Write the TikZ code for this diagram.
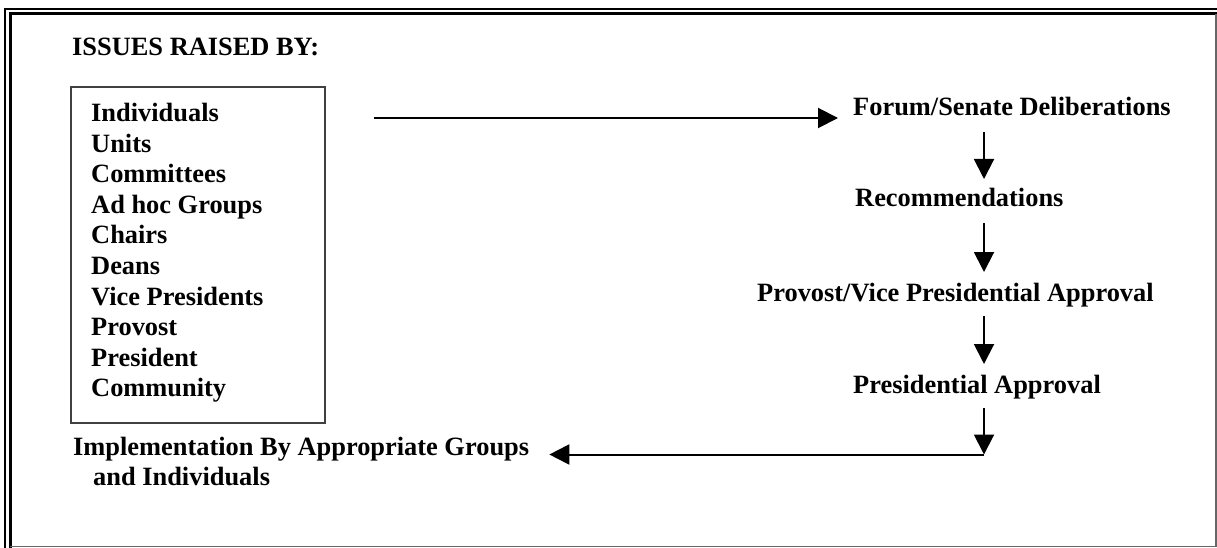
\documentclass[tikz,border=0pt]{standalone}
\usepackage{fontspec}
\setmainfont{Liberation Serif}
\usetikzlibrary{arrows.meta,calc}
\begin{document}
\begin{tikzpicture}[x=1pt,y=-1pt,
  lbl/.style={anchor=base west,inner sep=0pt,font=\fontsize{26.4}{30}\selectfont\bfseries},
  arr/.style={line width=2pt,-{Triangle[length=20pt,width=20pt]}},
  plain/.style={line width=2pt}]
\useasboundingbox[fill=white] (0,0) rectangle (1217,548);
% frame
\draw[line width=1.6pt] (5,548) -- (5,9) -- (1217,9);
\draw[line width=3pt] (10,548) -- (10,14) -- (1217,14);
\draw[line width=1.4pt,black!60] (1215.8,14) -- (1215.8,546.6) -- (10,546.6);
% title
\node[lbl] (title) at (72,56) {ISSUES RAISED BY:};
% box
\node[draw=black!75,line width=1.4pt,minimum width=254pt,minimum height=336pt,inner sep=0pt] (srcbox) at (198,255) {};
\foreach \t [count=\i] in {Individuals,Units,Committees,Ad hoc Groups,Chairs,Deans,Vice Presidents,Provost,President,Community}
  \node[lbl] (item\i) at (91,{121.5+(\i-1)*30.6}) {\t};
% right column
\node[lbl] (forum) at (853,116) {Forum/Senate Deliberations};
\node[lbl] (rec) at (855,207) {Recommendations};
\node[lbl] (prov) at (757,301) {Provost/Vice Presidential Approval};
\node[lbl] (pres) at (853,393) {Presidential Approval};
\node[lbl] (impl) at (73,455) {Implementation By Appropriate Groups};
\node[lbl] (impl2) at (93,485) {and Individuals};
% connectors
\coordinate (col) at (984,0);
\coordinate (start) at (374,118);
\draw[arr] (start) -- ($(forum.base west)+(-15,2)$);
\draw[arr] ($(forum.base -| col)+(0,16)$) -- ($(rec.base -| col)+(0,-28)$);
\draw[arr] ($(rec.base -| col)+(0,16)$) -- ($(prov.base -| col)+(0,-29)$);
\draw[arr] ($(prov.base -| col)+(0,15)$) -- ($(pres.base -| col)+(0,-29)$);
\coordinate (corner) at ($(impl.base -| col)+(0,-0.5)$);
\draw[arr] ($(pres.base -| col)+(0,15)$) -- (corner);
\draw[arr] (corner) -- ($(impl.base east)+(20,-0.5)$);
\end{tikzpicture}
\end{document}
